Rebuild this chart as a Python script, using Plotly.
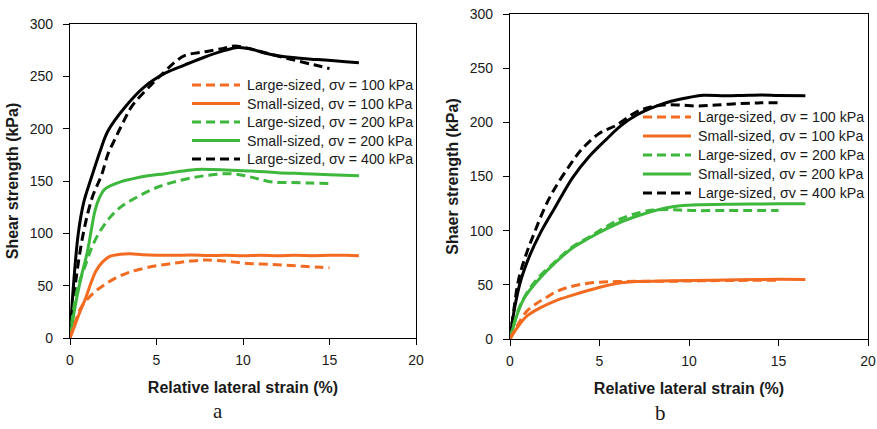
import plotly.graph_objects as go

# ---------------- (a) ----------------
a_large100_x = [0, 0.3, 0.6, 1.0, 1.5, 2.0, 2.6, 3.3, 4.0, 5.0, 6.0, 7.0, 7.8, 8.5, 9.5, 10.5, 11.5, 12.5, 13.5, 14.5, 15.0]
a_large100_y = [0, 15, 28, 37, 45, 51, 57, 62, 65.5, 69, 71.5, 73.5, 74.5, 74, 72.5, 71, 70.5, 69.5, 68.5, 67.5, 67]

a_small100_x = [0, 0.3, 0.6, 0.9, 1.2, 1.5, 1.9, 2.3, 2.9, 3.5, 4.2, 5.0, 6.0, 7.0, 8.0, 9.0, 10.0, 11.0, 12.0, 13.0, 14.0, 15.0, 16.0, 16.7]
a_small100_y = [0, 13, 26, 38, 52, 64, 73, 78, 80, 80.5, 79.5, 79, 79, 79.3, 78.8, 79, 78.5, 79, 78.5, 79, 78.7, 79, 79, 78.5]

a_large200_x = [0, 0.4, 0.9, 1.3, 1.7, 2.3, 3.0, 3.7, 4.5, 5.2, 6.0, 7.0, 8.0, 9.0, 9.8, 10.4, 11.0, 11.7, 12.8, 14.0, 15.0]
a_large200_y = [0, 45, 70, 88, 101, 115, 126, 133, 140, 145, 149, 153, 155.5, 157, 156, 154, 151.5, 149, 148.5, 148, 147.5]

a_small200_x = [0, 0.35, 0.7, 1.0, 1.25, 1.45, 1.7, 2.0, 2.8, 3.6, 4.5, 5.5, 6.5, 7.3, 8.2, 9.0, 10.5, 12.0, 13.5, 15.0, 16.7]
a_small200_y = [0, 35, 62, 82, 105, 122, 134, 142, 148.5, 152, 155, 157, 159.5, 161, 161, 160.5, 159.5, 158, 157, 156, 155]

a_large400_x = [0, 0.3, 0.77, 1.3, 1.83, 2.2, 2.6, 3.1, 3.6, 4.7, 5.5, 6.1, 6.65, 7.8, 8.8, 9.5, 10.2, 11.4, 12.7, 14.1, 15.0]
a_large400_y = [0, 50, 100, 135, 156, 176, 190, 207, 222, 242, 255, 264, 270, 273.5, 276.5, 279, 277, 272, 266.5, 261, 257.5]

a_small400_x = [0, 0.2, 0.48, 0.8, 1.25, 1.73, 2.2, 3.2, 4.3, 5.5, 6.65, 7.8, 9.0, 9.7, 10.5, 11.3, 12.3, 14.3, 16.7]
a_small400_y = [0, 50, 100, 130, 154, 178, 198, 221, 240, 253, 261, 268.5, 275, 277.5, 276, 272, 269, 266, 263]

# ---------------- (b) ----------------
b_large100_x = [0, 0.4, 0.9, 1.5, 2.0, 2.5, 3.2, 4.0, 5.0, 6.0, 8.0, 10.0, 12.0, 15.0]
b_large100_y = [0, 12, 25, 33, 38, 43, 47.5, 50.5, 52.5, 53, 53.3, 53.5, 54, 54.3]

b_small100_x = [0, 0.3, 0.65, 1.0, 1.6, 2.5, 3.5, 4.4, 5.3, 6.2, 7.0, 8.5, 10.0, 12.0, 14.0, 16.5]
b_small100_y = [0, 8, 16, 22, 28, 35, 40.5, 45, 49, 52, 53, 53.5, 54, 54.5, 55, 55]

b_large200_x = [0, 0.45, 0.85, 1.5, 2.5, 3.4, 4.4, 5.3, 6.2, 7.2, 8.0, 8.8, 9.5, 10.5, 12.0, 13.5, 15.0]
b_large200_y = [0, 26, 40, 55, 71, 84, 94, 103, 111, 116.5, 119, 119.5, 119, 118.5, 118.7, 118.7, 118.7]

b_small200_x = [0, 0.45, 0.84, 1.58, 2.5, 3.45, 4.4, 5.3, 6.2, 7.2, 8.1, 8.7, 9.5, 10.5, 12.0, 13.5, 15.0, 16.5]
b_small200_y = [0, 25, 39, 54.5, 70, 83.5, 93, 101, 108, 114, 118.5, 121, 123, 124, 124.3, 124.6, 124.8, 124.8]

b_large400_x = [0, 0.2, 0.47, 0.9, 1.36, 1.96, 2.5, 3.45, 4.0, 5.0, 5.9, 7.0, 7.7, 8.6, 9.5, 10.5, 11.5, 12.9, 14.0, 15.0]
b_large400_y = [0, 25, 54, 78, 98, 122, 139, 163, 175, 190, 197, 209, 213.5, 216, 216, 215, 216, 217.3, 218, 218]

b_small400_x = [0, 0.25, 0.6, 1.1, 1.7, 2.5, 3.5, 4.4, 5.3, 6.2, 7.1, 8.1, 9.0, 10.0, 10.8, 12.0, 13.0, 14.0, 15.0, 16.5]
b_small400_y = [0, 28, 54, 77, 98, 121, 149, 168, 183, 197, 207, 214.5, 219.5, 223, 225, 224.5, 224.8, 225.2, 224.8, 224.5]

series_names = [
    "Large-sized, σv = 100 kPa",
    "Small-sized, σv = 100 kPa",
    "Large-sized, σv = 200 kPa",
    "Small-sized, σv = 200 kPa",
    "Large-sized, σv = 400 kPa",
    "Small-sized, σv = 400 kPa",
]
# the key lists only the first five series
legend_count = 5

x_ticks = [0, 5, 10, 15, 20]
y_ticks = [0, 50, 100, 150, 200, 250, 300]

ORANGE = "#F26B21"
GREEN = "#3DB83D"
BLACK = "#000000"
DASH = "9px,5px"

styles = [
    (ORANGE, DASH), (ORANGE, "solid"),
    (GREEN, DASH), (GREEN, "solid"),
    (BLACK, DASH), (BLACK, "solid"),
]

panel_a = [
    (a_large100_x, a_large100_y), (a_small100_x, a_small100_y),
    (a_large200_x, a_large200_y), (a_small200_x, a_small200_y),
    (a_large400_x, a_large400_y), (a_small400_x, a_small400_y),
]
panel_b = [
    (b_large100_x, b_large100_y), (b_small100_x, b_small100_y),
    (b_large200_x, b_large200_y), (b_small200_x, b_small200_y),
    (b_large400_x, b_large400_y), (b_small400_x, b_small400_y),
]

W, H = 877, 429
FONT = "Liberation Sans"
TEXT = "#1a1a1a"

fig = go.Figure()

# black curves first so the coloured ones sit on top
order = [4, 5, 2, 3, 0, 1]
for panel, xa, ya in [(panel_a, "x", "y"), (panel_b, "x2", "y2")]:
    for i in order:
        xs, ys = panel[i]
        color, dash = styles[i]
        fig.add_trace(go.Scatter(
            x=xs, y=ys, mode="lines", name=series_names[i],
            line=dict(color=color, width=3, dash=dash, shape="spline", smoothing=1.0),
            xaxis=xa, yaxis=ya, showlegend=False,
        ))

tickfont = dict(family=FONT, size=14, color=TEXT)
titlefont = dict(family=FONT, size=16, color=TEXT, weight="bold")

def xaxis(domain, anchor):
    return dict(domain=domain, anchor=anchor, range=[0, 20], tickvals=x_ticks,
                showline=True, linecolor="#000", linewidth=1.3, mirror=True,
                ticks="outside", ticklen=6, tickwidth=1.3, tickcolor="#000",
                showgrid=False, zeroline=False, tickfont=tickfont,
                ticklabelstandoff=3, automargin=False,
                title=dict(text="Relative lateral strain (%)", font=titlefont, standoff=14))

def yaxis(domain, anchor, title):
    return dict(domain=domain, anchor=anchor, range=[0, 300], tickvals=y_ticks,
                showline=True, linecolor="#000", linewidth=1.3, mirror=True,
                ticks="outside", ticklen=6, tickwidth=1.3, tickcolor="#000",
                showgrid=False, zeroline=False, tickfont=tickfont,
                ticklabelstandoff=7, automargin=False,
                title=dict(text=title, font=titlefont, standoff=7))

# hand-placed keys: (line start px, line end px, text start px, first row centre px, row step px)
keys = [(192, 240, 245, 85, 18.5), (643, 691, 696, 117, 19.0)]
shapes, annotations = [], []
for x0, x1, xt, y0, step in keys:
    for k in range(legend_count):
        color, dash = styles[k]
        yc = 1 - (y0 + k * step) / H
        shapes.append(dict(type="line", xref="paper", yref="paper",
                           x0=x0 / W, x1=x1 / W, y0=yc, y1=yc,
                           line=dict(color=color, width=3, dash=dash)))
        annotations.append(dict(text=series_names[k], x=xt / W, y=yc,
                                xref="paper", yref="paper", xanchor="left", yanchor="middle",
                                showarrow=False, font=dict(family=FONT, size=14.2, color=TEXT)))

panel_font = dict(family="Liberation Serif", size=21, color=TEXT)
annotations += [
    dict(text="a", x=218 / W, y=1 - 411 / H, xref="paper", yref="paper",
         xanchor="center", yanchor="middle", showarrow=False, font=panel_font),
    dict(text="b", x=660 / W, y=1 - 413 / H, xref="paper", yref="paper",
         xanchor="center", yanchor="middle", showarrow=False, font=panel_font),
]

fig.update_layout(
    width=W, height=H,
    margin=dict(l=0, r=0, t=0, b=0),
    paper_bgcolor="white", plot_bgcolor="white",
    showlegend=False,
    xaxis=xaxis([70 / W, 416 / W], "y"),
    yaxis=yaxis([1 - 338 / H, 1 - 24 / H], "x", "Shear strength (kPa)"),
    xaxis2=xaxis([510 / W, 868 / W], "y2"),
    yaxis2=yaxis([1 - 339 / H, 1 - 14 / H], "x2", "Shaer strength (kPa)"),
    shapes=shapes,
    annotations=annotations,
)

fig.write_html("out.html")
